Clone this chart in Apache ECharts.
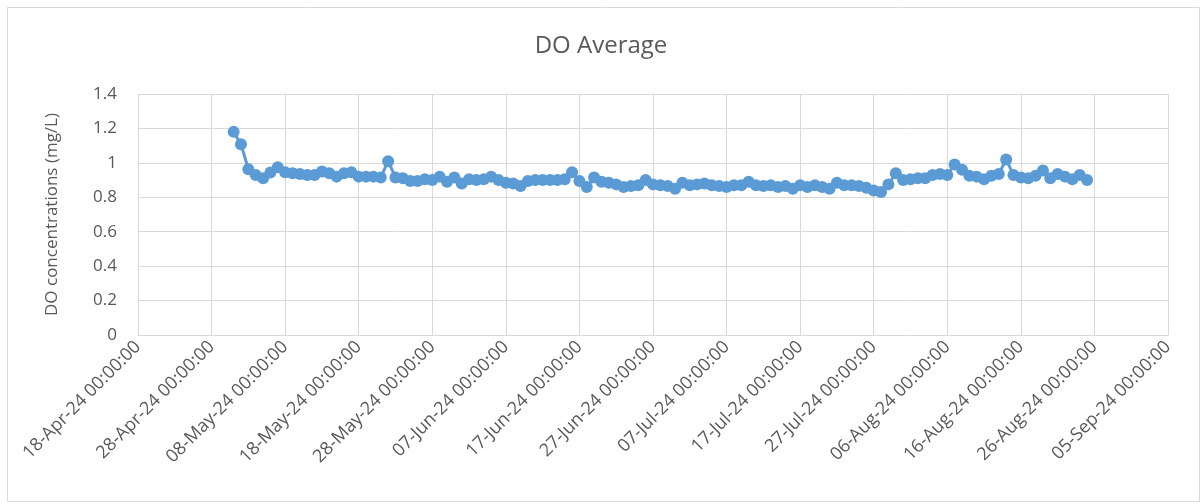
<!DOCTYPE html>
<html>
<head>
<meta charset="utf-8">
<script src="https://cdn.jsdelivr.net/npm/echarts@6/dist/echarts.min.js"></script>
<style>
html,body{margin:0;padding:0;background:#fff;}
#chart{width:1202px;height:504px;}
</style>
</head>
<body>
<div id="chart"></div>
<script>
// Daily DO averages, consecutive days starting at firstDate
const firstDate = '2024-05-01';
const doValues = [
  1.18, 1.108, 0.963, 0.93, 0.911, 0.944, 0.975, 0.945, 0.94, 0.935,
  0.93, 0.93, 0.95, 0.94, 0.92, 0.94, 0.945, 0.92, 0.92, 0.92,
  0.915, 1.01, 0.915, 0.91, 0.895, 0.895, 0.905, 0.90, 0.92, 0.89,
  0.915, 0.88, 0.905, 0.90, 0.905, 0.92, 0.90, 0.885, 0.88, 0.865,
  0.895, 0.90, 0.90, 0.90, 0.90, 0.905, 0.945, 0.895, 0.86, 0.915,
  0.89, 0.885, 0.875, 0.86, 0.865, 0.87, 0.90, 0.875, 0.87, 0.865,
  0.85, 0.885, 0.87, 0.875, 0.88, 0.87, 0.865, 0.86, 0.87, 0.87,
  0.89, 0.87, 0.865, 0.87, 0.86, 0.865, 0.85, 0.87, 0.86, 0.87,
  0.86, 0.85, 0.885, 0.87, 0.87, 0.865, 0.855, 0.84, 0.83, 0.875,
  0.94, 0.90, 0.905, 0.91, 0.91, 0.93, 0.935, 0.93, 0.99, 0.96,
  0.925, 0.92, 0.905, 0.925, 0.935, 1.02, 0.93, 0.915, 0.91, 0.925,
  0.955, 0.91, 0.935, 0.92, 0.905, 0.93, 0.90
];
const axisStart = '2024-04-18';
const axisEnd = '2024-09-05';
const tickStepDays = 10;
const yTicks = [0, 0.2, 0.4, 0.6, 0.8, 1, 1.2, 1.4];
const monthNames = ['Jan','Feb','Mar','Apr','May','Jun','Jul','Aug','Sep','Oct','Nov','Dec'];

const DAY = 86400000;
const t0 = Date.parse(axisStart + 'T00:00:00Z');
const t1 = Date.parse(axisEnd + 'T00:00:00Z');
const tFirst = Date.parse(firstDate + 'T00:00:00Z');
const seriesData = doValues.map((v, i) => [(tFirst - t0) / DAY + i, v]);

function fmtDay(d) {
  const dt = new Date(t0 + Math.round(d) * DAY);
  const dd = String(dt.getUTCDate()).padStart(2, '0');
  const mm = monthNames[dt.getUTCMonth()];
  const yy = String(dt.getUTCFullYear()).slice(2);
  return dd + '-' + mm + '-' + yy + ' 00:00:00';
}

const textColor = '#595959';
const gridColor = '#d9d9d9';
const fontFam = '"Open Sans", "Liberation Sans", sans-serif';

const chart = echarts.init(document.getElementById('chart'), null, {renderer: 'canvas'});
chart.setOption({
  animation: false,
  backgroundColor: '#fff',
  graphic: [{
    type: 'rect',
    shape: {x: 7.5, y: 7.5, width: 1192, height: 494},
    style: {fill: 'none', stroke: gridColor, lineWidth: 1},
    silent: true, z: -1
  }],
  title: {
    text: 'DO Average',
    left: 'center',
    top: 29,
    textStyle: {color: textColor, fontSize: 24, fontWeight: 'normal', fontFamily: fontFam}
  },
  grid: {left: 138, right: 34, top: 94, bottom: 169, containLabel: false},
  xAxis: {
    type: 'value',
    min: 0,
    max: (t1 - t0) / DAY,
    interval: tickStepDays,
    axisLine: {show: true, lineStyle: {color: gridColor, width: 1}},
    axisTick: {show: false},
    splitLine: {show: true, lineStyle: {color: gridColor, width: 1}},
    axisLabel: {
      rotate: 45,
      color: textColor,
      fontSize: 18,
      fontFamily: fontFam,
      margin: 9,
      showMinLabel: true,
      showMaxLabel: true,
      formatter: fmtDay
    }
  },
  yAxis: {
    type: 'value',
    min: yTicks[0],
    max: yTicks[yTicks.length - 1],
    interval: 0.2,
    name: 'DO concentrations (mg/L)',
    nameLocation: 'middle',
    nameGap: 77,
    nameTextStyle: {color: textColor, fontSize: 17, fontFamily: fontFam},
    axisLine: {show: false},
    axisTick: {show: false},
    splitLine: {show: true, lineStyle: {color: gridColor, width: 1}},
    axisLabel: {
      color: textColor,
      fontSize: 17,
      fontFamily: fontFam,
      margin: 21,
      formatter: v => String(Math.round(v * 10) / 10)
    }
  },
  series: [{
    type: 'line',
    data: seriesData,
    symbol: 'circle',
    symbolSize: 12,
    showAllSymbol: true,
    lineStyle: {color: '#5b9bd5', width: 3},
    itemStyle: {color: '#5b9bd5'}
  }]
});
</script>
</body>
</html>
